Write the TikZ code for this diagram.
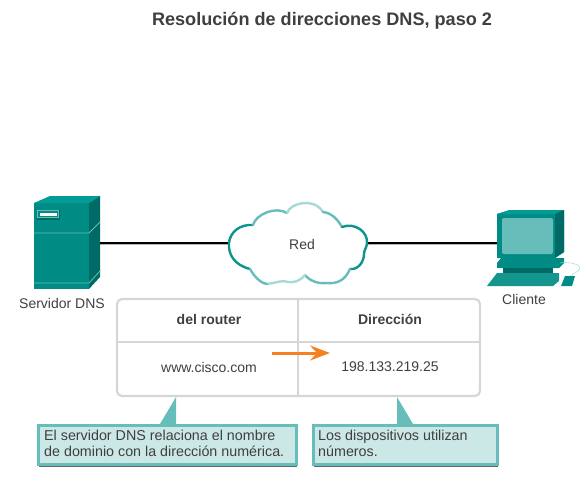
\documentclass[tikz,border=0pt]{standalone}
\usepackage{fontspec}
\setmainfont{Liberation Sans}
\usetikzlibrary{arrows.meta,shadows}
\definecolor{tealA}{HTML}{008C85}
\definecolor{tealB}{HTML}{006B66}
\definecolor{tealC}{HTML}{00A19A}
\definecolor{tealD}{HTML}{66BDB9}
\definecolor{tealE}{HTML}{A5DAD7}
\definecolor{noteFill}{HTML}{CCE8E6}
\definecolor{tableGrey}{HTML}{D6D6D6}
\definecolor{labelGrey}{HTML}{3F3F3F}
\definecolor{flowOrange}{HTML}{F58220}

\begin{document}
\begin{tikzpicture}[x=1pt,y=-1pt,
    label/.style={font=\fontsize{14}{16}\selectfont,text=labelGrey,inner sep=0pt},
    head/.style={font=\fontsize{14}{16}\selectfont\bfseries,text=labelGrey,inner sep=0pt},
    anchorbox/.style={inner sep=0pt,minimum height=1pt},
    link/.style={draw=black,line width=2pt},
    linkshade/.style={draw=black!30,line width=1pt},
    cloudline/.style={line width=2.4pt,line cap=round},
    grid/.style={draw=tableGrey,line width=2.2pt},
    note/.style={draw=tealD,line width=3pt,fill=noteFill,inner sep=0pt,outer sep=0pt,anchor=north west,
        drop shadow={shadow xshift=0.5pt,shadow yshift=-2.5pt,fill=black,opacity=0.6}},
    notetext/.style={font=\fontsize{14.3}{16}\selectfont,text=labelGrey,align=left,inner sep=0pt,anchor=north west},
    flow/.style={-{Stealth[length=20pt,width=15pt,inset=7pt]},draw=flowOrange,line width=3pt}
]
    \useasboundingbox (0,0) rectangle (581,495);
    \node[font=\fontsize{18.1}{22}\selectfont\bfseries,text=labelGrey,inner sep=0pt] (title) at (322,21)
        {Resolución de direcciones DNS, paso 2};

    % anchors for the wires
    \node[anchorbox,minimum width=66pt] (server) at (67,243) {};
    \node[anchorbox,minimum width=138pt] (cloud) at (298,243) {};
    \node[anchorbox,minimum width=58pt] (client) at (526,243) {};
    \draw[linkshade] ([yshift=-1.5pt]server.east) -- ([yshift=-1.5pt]cloud.west);
    \draw[linkshade] ([yshift=-1.5pt]cloud.east) -- ([yshift=-1.5pt]client.west);
    \draw[link] (server) -- (cloud);
    \draw[link] (cloud) -- (client);

    % server
    \fill[tealA] (34,203) rectangle (89,289);
    \fill[tealC!75!tealA] (34,203) -- (50,196) -- (100,196) -- (89,203) -- cycle;
    \fill[tealB] (89,203) -- (100,196) -- (100,277) -- (89,289) -- cycle;
    \draw[tealD,line width=0.8pt] (34,233) -- (89,233) -- (100,222);
    \draw[tealD,line width=0.8pt] (34,283) -- (89,283) -- (100,271);
    \fill[tealB] (37,210) rectangle (60,220);
    \fill[tealD] (37,210) rectangle (59,218);
    \fill[tealA] (38,211) rectangle (58,217);
    \fill[white] (40,213) rectangle (57,216);
    \node[label] (serverlabel) at (62,303) {Servidor DNS};

    % cloud
    \fill[white] (250,269) .. controls (234,265) and (228,254) .. (229,243)
        .. controls (230,232) and (240,224) .. (253,225)
        .. controls (256,214) and (276,206) .. (287,213)
        .. controls (290,203) and (314,197) .. (323,212)
        .. controls (332,213) and (338,220) .. (342,227)
        .. controls (355,222) and (368,232) .. (367,243)
        .. controls (367,247) and (364,250) .. (364,254)
        .. controls (364,262) and (358,270) .. (350,269)
        .. controls (345,281) and (336,284) .. (327,283)
        .. controls (318,284) and (310,281) .. (305,275)
        .. controls (300,281) and (294,283) .. (288,282)
        .. controls (282,280) and (280,282) .. (267,284)
        .. controls (260,283) and (254,276) .. (250,269) -- cycle;
    \draw[cloudline,tealA!85!tealD] (250,269) .. controls (234,265) and (228,254) .. (229,243)
        .. controls (230,232) and (240,224) .. (253,225);
    \draw[cloudline,tealD] (253,225) .. controls (256,214) and (276,206) .. (287,213);
    \draw[cloudline,tealE] (287,213) .. controls (290,203) and (314,197) .. (323,212);
    \draw[cloudline,tealD] (323,212) .. controls (332,213) and (338,220) .. (342,227);
    \draw[cloudline,tealA!85!tealD] (342,227) .. controls (355,222) and (368,232) .. (367,243)
        .. controls (367,247) and (364,250) .. (364,254)
        .. controls (364,262) and (358,270) .. (350,269);
    \draw[cloudline,tealD] (350,269) .. controls (345,281) and (336,284) .. (327,283)
        .. controls (318,284) and (310,281) .. (305,275);
    \draw[cloudline,tealE] (305,275) .. controls (300,281) and (294,283) .. (288,282)
        .. controls (282,280) and (280,282) .. (267,284);
    \draw[cloudline,tealD] (267,284) .. controls (260,283) and (254,276) .. (250,269);
    \node[label] (cloudlabel) at (302,244) {Red};

    % client
    \fill[tealA] (497,214) -- (510,210) -- (564,210) -- (564,252) -- (555,258) -- (497,258) -- cycle;
    \fill[tealC!75!tealA] (497,214) -- (510,210) -- (564,210) -- (555,214) -- cycle;
    \fill[tealB] (555,214) -- (564,210) -- (564,252) -- (555,258) -- cycle;
    \fill[tealD,rounded corners=2pt] (502,218) rectangle (553,254);
    \fill[tealA] (501,258) -- (564,258) -- (564,263) -- (559,268) -- (497,268) -- (497,263) -- cycle;
    \fill[tealB] (503,268) rectangle (553,273);
    \fill[tealA!80!tealD] (497,273) -- (559,273) -- (559,281) -- (553,286) -- (487,286) -- cycle;
    \fill[tealA] (561,286) -- (565,276) -- (575,276) -- (572,286) -- cycle;
    \draw[tealE,line width=0.5pt] (560,263) .. controls (575,261) and (583,267) .. (579,270)
        .. controls (576,273) and (572,274) .. (570,276);
    \node[label] (clientlabel) at (524,299) {Cliente};

    % table
    \draw[grid,rounded corners=5pt] (117,299) rectangle (480,396);
    \draw[grid] (298,299) -- (298,396);
    \draw[grid] (117,342) -- (480,342);
    \node[head] (namehead) at (209,319) {del router};
    \node[head] (addrhead) at (390,319) {Dirección};
    \node[label] (namecell) at (209,367) {www.cisco.com};
    \node[label] (addrcell) at (390,367) {198.133.219.25};
    \coordinate (flowstart) at (272,353);
    \coordinate (flowend) at (330,353);
    \draw[flow] (flowstart) -- (flowend);

    % notes
    \node[note,minimum width=258pt,minimum height=39pt] (noteleft) at (38.5,425.5) {};
    \node[note,minimum width=184pt,minimum height=39pt] (noteright) at (313.5,425.5) {};
    \fill[tealD] (176,397) -- (160,424) -- (176,424) -- cycle;
    \fill[tealD] (397,397) -- (397,424) -- (413,424) -- cycle;
    \node[notetext] (textleft) at (44,430)
        {El servidor DNS relaciona el nombre\\de dominio con la dirección numérica.};
    \node[notetext] (textright) at (318,430)
        {Los dispositivos utilizan\\números.};
\end{tikzpicture}
\end{document}
